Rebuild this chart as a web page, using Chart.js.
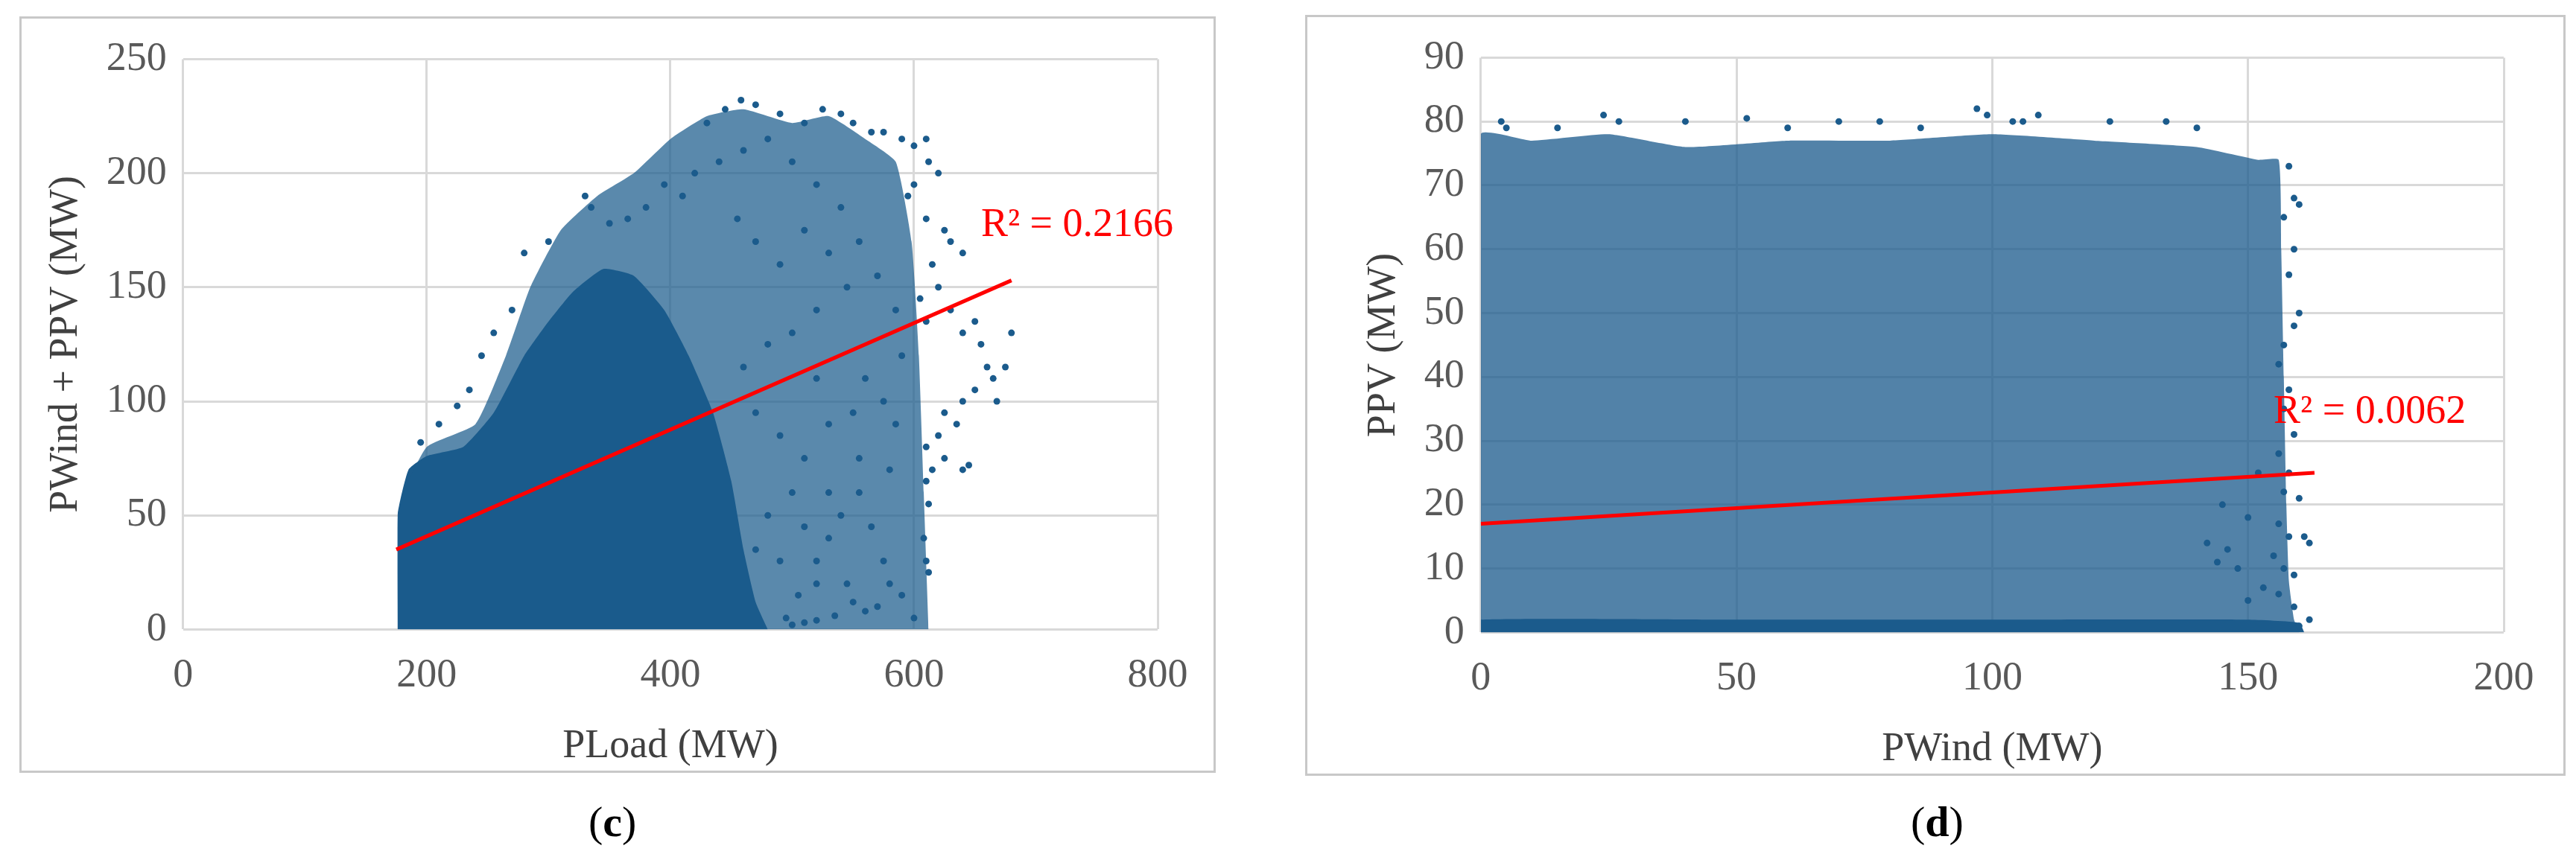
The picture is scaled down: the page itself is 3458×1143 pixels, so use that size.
<!DOCTYPE html>
<html>
<head>
<meta charset="utf-8">
<script src="https://cdn.jsdelivr.net/npm/chart.js@4.4.0/dist/chart.umd.min.js"></script>
<style>
  body { margin: 0; background: #fff; width: 3458px; height: 1143px; position: relative; font-family: "Liberation Serif", serif; }
  .panel { position: absolute; border: 3px solid #c8c8c8; box-sizing: border-box; }
  .tag { position: absolute; font-size: 58px; color: #000; }
</style>
</head>
<body>
<div class="panel" style="left:26px;top:22px;width:1606px;height:1016px"><canvas id="c1"></canvas></div>
<div class="panel" style="left:1752px;top:20px;width:1692px;height:1022px"><canvas id="c2"></canvas></div>
<div class="tag" style="left:790px;top:1070px">(<b>c</b>)</div>
<div class="tag" style="left:2565px;top:1070px">(<b>d</b>)</div>
<script>
const dotColor = '#1b5b8c';

// ---- panel (c): PLoad vs PWind + PPV ----
// dense core upper edge (filled down to 0)
const loadCoreEdge = [[176,0],[176,50],[185,70],[200,76],[230,80],[255,95],[280,120],[300,135],[320,148],[345,158],[370,155],[395,140],[415,120],[435,95],[450,65],[460,35],[470,12],[480,0]];
// looser outer envelope
const loadOuterEdge = [[178,0],[178,55],[200,80],[240,90],[265,120],[285,150],[310,175],[340,190],[370,200],[400,215],[430,225],[460,228],[500,222],[530,225],[560,215],[585,205],[598,170],[604,120],[608,60],[612,0]];
const loadPoints = [[330,190],[335,185],[300,170],[280,165],[270,140],[255,130],[245,120],[235,105],[225,98],[210,90],[195,82],[430,222],[445,228],[458,232],[470,230],[490,226],[510,222],[525,228],[540,226],[550,222],[565,218],[575,218],[590,215],[600,212],[610,215],[612,205],[620,200],[600,195],[595,190],[610,180],[625,175],[630,170],[640,165],[615,160],[620,150],[605,145],[610,135],[630,140],[640,130],[650,135],[655,125],[660,115],[665,110],[675,115],[680,130],[668,100],[650,105],[640,100],[625,95],[635,90],[620,85],[610,80],[625,75],[640,70],[645,72],[615,70],[610,65],[612,55],[608,40],[610,30],[612,25],[600,5],[590,15],[580,20],[575,30],[570,10],[560,8],[550,12],[545,20],[535,6],[520,4],[510,3],[500,2],[495,5],[520,30],[530,40],[540,50],[555,60],[565,45],[580,70],[585,90],[575,100],[560,110],[590,120],[585,140],[570,155],[555,170],[540,185],[520,195],[500,205],[480,215],[460,210],[440,205],[420,200],[410,190],[395,195],[380,185],[365,180],[350,178],[455,180],[470,170],[490,160],[510,175],[530,165],[545,150],[520,140],[500,130],[480,125],[460,115],[470,95],[490,85],[510,75],[530,90],[550,95],[520,110],[500,60],[480,50],[470,35],[490,30],[510,45],[530,60],[555,75],[520,20],[505,15]];
const loadTrend = [[175,35],[680,153]];

// ---- panel (d): PWind vs PPV ----
const windEdge = [[0,0],[0,78],[10,77],[25,78],[40,76],[60,77],[80,77],[100,78],[120,77],[140,76],[152,74],[156,74],[156.5,60],[157,40],[157.5,20],[158,8],[159,2],[160,0]];
const windBase = [[0,0],[0,2],[50,2],[100,2],[150,2],[160,1.5],[161,0]];
const windPoints = [[4,80],[5,79],[24,81],[27,80],[40,80],[52,80.5],[70,80],[78,80],[86,79],[97,82],[99,81],[104,80],[106,80],[109,81],[123,80],[134,80],[140,79],[15,79],[60,79],[158,73],[159,68],[160,67],[157,65],[159,60],[158,56],[160,50],[159,48],[157,45],[156,42],[158,38],[157,35],[159,31],[156,28],[158,25],[157,22],[160,21],[156,17],[158,15],[162,14],[161,15],[155,12],[157,10],[159,9],[156,6],[159,4],[162,2],[160,1],[153,7],[150,5],[148,10],[146,13],[144,11],[142,14],[145,20],[150,18],[152,25]];
const windTrend = [[0,17],[163,25]];

const tickFont = { family: 'Liberation Serif', size: 54 };
const titleFont = { family: 'Liberation Serif', size: 54 };

const labelPlugin = {
  id: 'r2',
  afterDatasetsDraw(chart) {
    const o = chart.options.plugins.r2;
    const c = chart.ctx;
    c.save();
    c.fillStyle = '#ff0000';
    c.font = '54px "Liberation Serif"';
    c.textBaseline = 'middle';
    c.fillText(o.text, chart.scales.x.getPixelForValue(o.x), chart.scales.y.getPixelForValue(o.y));
    c.restore();
  }
};

function pts(a) { return a.map(p => ({ x: p[0], y: p[1] })); }

function makeChart(id, cfg) {
  return new Chart(document.getElementById(id), {
    type: 'scatter',
    data: {
      datasets: [
        ...cfg.areas.map(a => ({ data: pts(a.edge), showLine: true, fill: 'origin', backgroundColor: a.color, borderWidth: 0, pointRadius: 0, tension: 0.15, order: 3 })),
        { data: pts(cfg.points), backgroundColor: dotColor, borderWidth: 0, pointRadius: 4.5, order: 2 },
        { data: pts(cfg.trend), showLine: true, borderColor: '#ff0000', borderWidth: 5, pointRadius: 0, order: 1 }
      ]
    },
    options: {
      responsive: true, maintainAspectRatio: false, animation: false,
      layout: { padding: cfg.padding },
      plugins: { legend: { display: false }, tooltip: { enabled: false }, filler: { drawTime: 'beforeDatasetsDraw' }, r2: cfg.label },
      scales: {
        x: { min: cfg.xMin, max: cfg.xMax, ticks: { stepSize: cfg.xStep, color: '#595959', font: tickFont, padding: 30 },
             grid: { color: '#d9d9d9', lineWidth: 3, drawTicks: false }, border: { display: false },
             title: { display: true, text: cfg.xTitle, color: '#404040', font: titleFont, padding: 0 } },
        y: { min: cfg.yMin, max: cfg.yMax, ticks: { stepSize: cfg.yStep, color: '#595959', font: tickFont, padding: 22 },
             grid: { color: '#d9d9d9', lineWidth: 3, drawTicks: false }, border: { display: false },
             title: { display: true, text: cfg.yTitle, color: '#404040', font: titleFont, padding: 0 } }
      }
    },
    plugins: [labelPlugin]
  });
}

makeChart('c1', {
  areas: [{ edge: loadOuterEdge, color: 'rgba(27,91,140,0.72)' }, { edge: loadCoreEdge, color: dotColor }],
  points: loadPoints, trend: loadTrend,
  xMin: 0, xMax: 800, xStep: 200, yMin: 0, yMax: 250, yStep: 50,
  xTitle: 'PLoad (MW)', yTitle: 'PWind + PPV (MW)',
  label: { text: 'R² = 0.2166', x: 655, y: 177 },
  padding: { left: 27, right: 75, top: 40, bottom: 0 }
});

makeChart('c2', {
  areas: [{ edge: windEdge, color: 'rgba(27,91,140,0.76)' }, { edge: windBase, color: dotColor }],
  points: windPoints, trend: windTrend,
  xMin: 0, xMax: 200, xStep: 50, yMin: 0, yMax: 90, yStep: 10,
  xTitle: 'PWind (MW)', yTitle: 'PPV (MW)',
  label: { text: 'R² = 0.0062', x: 155, y: 34.5 },
  padding: { left: 70, right: 80, top: 40, bottom: 0 }
});
</script>
</body>
</html>
